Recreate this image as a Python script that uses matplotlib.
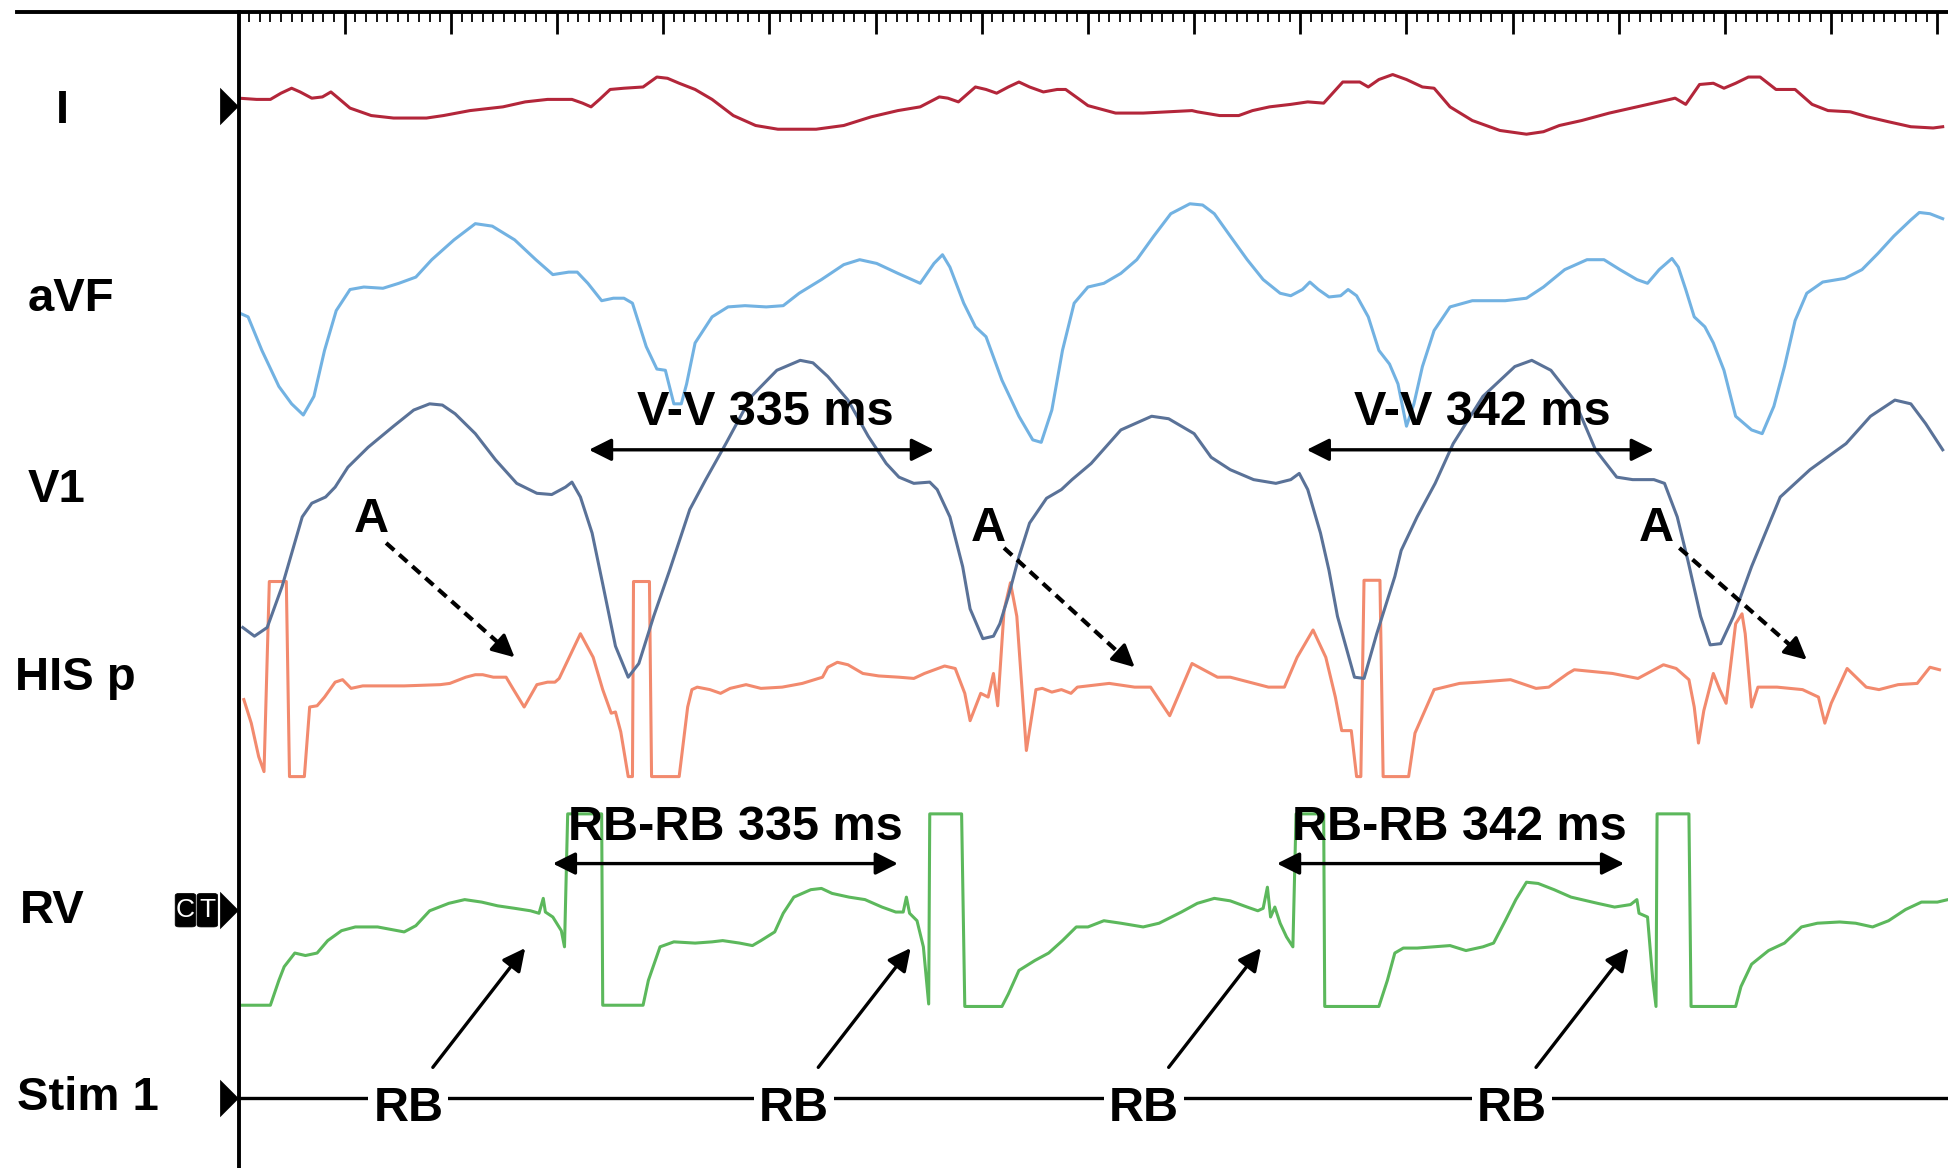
import numpy as np
import matplotlib
matplotlib.use('Agg')
import matplotlib.pyplot as plt
from matplotlib.patches import FancyBboxPatch
from matplotlib.lines import Line2D

# time in ms from the start of the window, amplitude in mV
i_t = [0, 17, 30, 40, 50, 58, 69, 79, 87, 94, 105, 125, 146, 177, 193, 218, 249, 270, 291, 314,
       324, 332, 340, 350, 363, 381, 394, 404, 415, 430, 446, 466, 487, 508, 544, 570, 596, 621, 642, 660,
       668, 678, 694, 704, 714, 725, 735, 745, 758, 771, 779, 792, 800, 826, 852, 898, 903, 924, 942, 955,
       971, 991, 1007, 1022, 1040, 1056, 1064, 1074, 1087, 1100, 1115, 1126, 1141, 1162, 1188, 1213, 1229, 1244, 1265, 1291,
       1317, 1348, 1353, 1363, 1376, 1389, 1399, 1410, 1422, 1433, 1448, 1466, 1482, 1497, 1518, 1534, 1554, 1575, 1596, 1605]
i_v = [0.6, 0.5, 0.5, 1.0, 1.4, 1.1, 0.6, 0.7, 1.1, 0.6, -0.2, -0.8, -1.0, -1.0, -0.8, -0.4, -0.1, 0.3, 0.5, 0.5,
       0.2, -0.1, 0.5, 1.3, 1.4, 1.5, 2.3, 2.2, 1.8, 1.3, 0.5, -0.8, -1.6, -1.9, -1.9, -1.6, -0.9, -0.4, -0.1, 0.7,
       0.6, 0.3, 1.5, 1.3, 1.0, 1.5, 1.9, 1.5, 1.1, 1.3, 1.3, 0.5, 0.0, -0.6, -0.6, -0.4, -0.5, -0.8, -0.8, -0.4,
       -0.1, 0.1, 0.3, 0.2, 1.9, 1.9, 1.5, 2.1, 2.5, 2.1, 1.5, 1.4, -0.1, -1.2, -2.0, -2.3, -2.1, -1.6, -1.2, -0.6,
       -0.1, 0.5, 0.6, 0.1, 1.7, 1.8, 1.4, 1.8, 2.3, 2.3, 1.3, 1.3, 0.1, -0.4, -0.5, -0.9, -1.3, -1.7, -1.8, -1.7]

avf_t = [1, 9, 22, 38, 50, 61, 71, 81, 92, 105, 118, 136, 151, 167, 182, 203, 223, 239, 260, 280,
         296, 311, 319, 329, 342, 353, 363, 371, 384, 394, 402, 410, 417, 422, 430, 446, 461, 477, 497, 513,
         528, 549, 570, 585, 601, 621, 642, 655, 663, 670, 683, 694, 704, 719, 735, 748, 756, 766, 776, 787,
         800, 815, 831, 846, 862, 878, 896, 908, 919, 934, 950, 965, 981, 991, 1002, 1009, 1017, 1027, 1038, 1045,
         1053, 1064, 1074, 1084, 1092, 1100, 1107, 1115, 1126, 1141, 1162, 1193, 1213, 1229, 1249, 1270, 1286, 1301, 1317, 1327,
         1338, 1350, 1356, 1363, 1371, 1381, 1389, 1399, 1410, 1425, 1435, 1446, 1456, 1466, 1477, 1492, 1513, 1529, 1544, 1559,
         1575, 1583, 1593, 1605]
avf_v = [-1.7, -2.0, -4.7, -7.6, -9.0, -9.9, -8.4, -4.7, -1.5, 0.2, 0.4, 0.3, 0.7, 1.2, 2.6, 4.2, 5.5, 5.3, 4.2, 2.6,
         1.4, 1.6, 1.6, 0.7, -0.7, -0.5, -0.5, -0.9, -4.4, -6.2, -6.3, -9.0, -9.0, -7.4, -4.1, -2.0, -1.2, -1.1, -1.2, -1.1,
         -0.1, 1.0, 2.2, 2.6, 2.3, 1.5, 0.7, 2.3, 3.0, 2.0, -0.9, -2.8, -3.6, -7.1, -10.0, -11.9, -12.1, -9.5, -4.7, -0.9,
         0.4, 0.7, 1.5, 2.6, 4.5, 6.3, 7.1, 7.0, 6.3, 4.5, 2.6, 1.0, -0.1, -0.3, 0.2, 0.8, 0.2, -0.4, -0.3, 0.2,
         -0.3, -2.0, -4.7, -5.8, -7.4, -10.8, -9.0, -6.0, -3.1, -1.2, -0.7, -0.7, -0.5, 0.4, 1.8, 2.6, 2.6, 1.8, 1.0, 0.7,
         1.8, 2.7, 2.0, 0.2, -2.0, -2.8, -4.1, -6.3, -10.0, -11.1, -11.4, -9.2, -6.0, -2.3, -0.1, 0.8, 1.1, 1.8, 3.1, 4.5,
         5.8, 6.4, 6.3, 5.9]

v1_t = [4, 15, 27, 41, 60, 69, 82, 91, 103, 122, 146, 165, 180, 192, 204, 223, 242, 262, 281, 295,
        308, 314, 322, 333, 343, 355, 367, 377, 391, 406, 425, 440, 459, 483, 507, 529, 541, 555, 574, 593,
        610, 622, 636, 651, 658, 670, 682, 689, 701, 711, 717, 725, 735, 745, 761, 775, 785, 803, 831, 860,
        876, 900, 916, 934, 956, 977, 991, 999, 1007, 1019, 1027, 1035, 1051, 1060, 1072, 1089, 1095, 1110, 1127, 1144,
        1172, 1202, 1218, 1236, 1258, 1278, 1298, 1313, 1333, 1343, 1355, 1365, 1377, 1386, 1396, 1408, 1425, 1452, 1480, 1514,
        1537, 1560, 1575, 1589, 1605]
v1_v = [-11.5, -12.2, -11.5, -8.2, -2.6, -1.5, -1.0, -0.2, 1.4, 3.0, 4.7, 6.0, 6.5, 6.4, 5.7, 4.1, 2.0, 0.1, -0.7, -0.8,
        -0.2, 0.2, -1.0, -3.9, -8.0, -13.0, -15.5, -14.4, -10.6, -6.9, -2.0, 0.4, 3.3, 7.1, 9.2, 10.0, 9.8, 8.7, 6.8, 3.9,
        1.7, 0.6, 0.1, 0.2, -0.4, -2.6, -6.6, -10.0, -12.4, -12.2, -11.2, -9.0, -5.8, -3.1, -1.1, -0.4, 0.4, 1.7, 4.4, 5.5,
        5.3, 4.1, 2.2, 1.2, 0.4, 0.1, 0.4, 0.9, -0.4, -3.9, -6.9, -10.6, -15.5, -15.6, -12.0, -7.4, -5.3, -2.6, 0.1, 3.3,
        7.1, 9.5, 10.0, 9.2, 6.8, 2.8, 0.6, 0.4, 0.4, 0.1, -2.6, -6.1, -10.6, -12.9, -12.8, -10.6, -6.6, -1.0, 1.2, 3.3,
        5.5, 6.8, 6.5, 4.9, 2.8]

his_t = [5, 12, 19, 24, 29, 45, 48, 62, 67, 74, 81, 91, 98, 106, 117, 156, 190, 199, 214, 223,
         230, 240, 252, 259, 269, 281, 291, 298, 302, 322, 334, 343, 351, 355, 360, 367, 371, 372, 387, 389,
         415, 423, 427, 432, 444, 454, 463, 478, 492, 512, 531, 550, 555, 564, 574, 588, 603, 622, 636, 646,
         665, 675, 684, 689, 694, 699, 706, 711, 715, 721, 727, 733, 742, 751, 757, 766, 775, 784, 790, 820,
         844, 859, 877, 898, 922, 934, 952, 970, 985, 997, 1012, 1024, 1033, 1039, 1048, 1053, 1057, 1060, 1075, 1078,
         1102, 1108, 1126, 1150, 1168, 1198, 1222, 1234, 1252, 1258, 1294, 1318, 1342, 1354, 1366, 1371, 1375, 1380, 1389, 1395,
         1401, 1410, 1416, 1419, 1425, 1431, 1449, 1461, 1473, 1488, 1494, 1500, 1515, 1533, 1545, 1563, 1581, 1593, 1602]
his_v = [-2.3, -4.2, -6.9, -8.1, 7.2, 7.2, -8.5, -8.5, -2.9, -2.8, -2.1, -0.9, -0.7, -1.4, -1.2, -1.2, -1.1, -1.0, -0.5, -0.3,
         -0.3, -0.5, -0.5, -1.5, -2.9, -1.1, -0.9, -0.9, -0.6, 3.0, 1.1, -1.5, -3.4, -3.3, -4.9, -8.5, -8.5, 7.2, 7.2, -8.5,
         -8.5, -2.9, -1.5, -1.3, -1.5, -1.8, -1.4, -1.1, -1.4, -1.3, -1.0, -0.5, 0.3, 0.7, 0.5, -0.2, -0.4, -0.5, -0.6, -0.2,
         0.4, 0.2, -1.8, -4.0, -2.9, -1.8, -2.1, -0.2, -2.8, 4.9, 7.1, 4.4, -6.4, -1.5, -1.4, -1.7, -1.5, -1.8, -1.3, -1.0,
         -1.3, -1.3, -3.6, 0.6, -0.5, -0.5, -0.9, -1.3, -1.3, 1.1, 3.3, 1.1, -2.1, -4.8, -4.8, -8.5, -8.5, 7.3, 7.3, -8.5,
         -8.5, -5.0, -1.5, -1.0, -0.9, -0.7, -1.4, -1.3, -0.2, 0.1, -0.2, -0.6, 0.5, 0.2, -0.7, -2.9, -5.8, -3.2, -0.2, -1.5,
         -2.6, 3.8, 4.6, 3.0, -2.9, -1.3, -1.3, -1.4, -1.5, -2.1, -4.2, -2.6, 0.2, -1.3, -1.5, -1.1, -1.0, 0.3, 0.1]

rv_t = [1, 30, 38, 43, 53, 63, 74, 84, 97, 110, 131, 156, 167, 180, 198, 213, 229, 244, 260, 275,
        283, 287, 289, 296, 304, 307, 310, 342, 343, 381, 386, 397, 410, 430, 446, 456, 472, 484, 492, 505,
        513, 523, 539, 549, 559, 575, 590, 606, 619, 626, 629, 632, 639, 645, 650, 651, 681, 684, 719, 725,
        735, 750, 763, 776, 789, 800, 815, 831, 852, 867, 888, 903, 919, 934, 950, 960, 965, 969, 972, 976,
        981, 987, 993, 996, 1022, 1023, 1074, 1082, 1089, 1097, 1110, 1125, 1141, 1156, 1172, 1182, 1193, 1203, 1213, 1224,
        1239, 1255, 1265, 1280, 1296, 1311, 1317, 1319, 1327, 1332, 1335, 1336, 1366, 1368, 1410, 1415, 1425, 1441, 1456, 1472,
        1487, 1508, 1523, 1539, 1554, 1570, 1585, 1600, 1610]
rv_v = [-7.6, -7.6, -5.6, -4.5, -3.4, -3.6, -3.4, -2.4, -1.6, -1.3, -1.3, -1.7, -1.2, 0.0, 0.6, 0.9, 0.7, 0.4, 0.2, 0.0,
        -0.2, 1.0, -0.1, -0.5, -1.6, -2.9, 7.8, 7.8, -7.6, -7.6, -5.6, -2.9, -2.5, -2.6, -2.5, -2.4, -2.6, -2.8, -2.4, -1.7,
        -0.2, 1.1, 1.7, 1.8, 1.4, 1.1, 0.9, 0.3, -0.1, -0.1, 1.1, -0.2, -0.8, -2.9, -7.5, 7.8, 7.8, -7.7, -7.7, -6.7,
        -4.8, -4.0, -3.4, -2.4, -1.3, -1.3, -0.8, -1.0, -1.3, -1.0, -0.1, 0.6, 1.0, 0.8, 0.3, 0.0, 0.2, 1.9, -0.5, 0.3,
        -1.0, -2.1, -2.9, 7.8, 7.8, -7.7, -7.7, -5.6, -3.4, -3.0, -3.0, -2.9, -2.8, -3.2, -2.9, -2.6, -0.8, 0.9, 2.3, 2.2,
        1.7, 1.1, 0.9, 0.6, 0.3, 0.5, 0.9, -0.2, -0.5, -5.6, -7.7, 7.8, 7.8, -7.7, -7.7, -6.1, -4.3, -3.2, -2.6, -1.3,
        -1.0, -0.9, -1.0, -1.3, -0.8, 0.1, 0.7, 0.7, 0.9]

stim_t = [0, 1610]
stim_v = [0.0, 0.0]

channels = ['I', 'aVF', 'V1', 'HIS p', 'RV', 'Stim 1']

# pacing marks (RB) on the stim channel, in ms
rb_times = [160, 523, 853, 1199]
vv_labels = ['V-V 335 ms', 'V-V 342 ms']
rbrb_labels = ['RB-RB 335 ms', 'RB-RB 342 ms']

FONT = ['Liberation Sans', 'DejaVu Sans']
W, H = 1568.0, 940.0   # layout grid used for placing things

fig = plt.figure(figsize=(19.48, 11.68), dpi=100)
fig.patch.set_facecolor('white')
L = 192 / W
ax = fig.add_axes([L, 0, 1 - L, 1 - 10 / H])
ax.set_xlim(0, 1610)
ax.set_ylim(-940, -10)
ax.set_facecolor('none')
for s in ['right', 'bottom']:
    ax.spines[s].set_visible(False)
ax.spines['left'].set_linewidth(2.8)
ax.spines['top'].set_linewidth(2.8)
ax.yaxis.set_visible(False)
ax.xaxis.tick_top()
ax.set_xticks(np.arange(100, 1610, 100))
ax.set_xticks(np.arange(10, 1610, 10), minor=True)
ax.tick_params(axis='x', which='major', direction='in', length=16, width=2.0,
               top=True, bottom=False, labeltop=False, labelbottom=False)
ax.tick_params(axis='x', which='minor', direction='in', length=7, width=1.3,
               top=True, bottom=False)
# top rule continues left over the label column
fig.add_artist(Line2D([14 / W, L], [1 - 10 / H] * 2, lw=2.8, color='k',
                      transform=fig.transFigure))

gain = 10.0
traces = [
    (i_t, i_v, '#b3263a', 85),
    (rv_t, rv_v, '#5cb85c', 733),
    (his_t, his_v, '#f28a6e', 540),
    (v1_t, v1_v, '#5a7298', 390),
    (avf_t, avf_v, '#72b2e2', 235),
]
for t, v, c, base in traces:
    ax.plot(t, -base + gain * np.asarray(v), color=c, lw=2.2,
            solid_joinstyle='round', zorder=2)
ax.plot(stim_t, -884 + gain * np.asarray(stim_v), color='k', lw=2.4, zorder=2)

FS = 35

# channel labels
label_pos = [(50, 99, 'center'), (22, 250, 'left'), (22, 404, 'left'),
             (12, 555, 'left'), (16, 743, 'left'), (14, 893, 'left')]
for name, (x, y, ha) in zip(channels, label_pos):
    fig.text(x / W, 1 - y / H, name, ha=ha, va='baseline', fontsize=FS - 1,
             fontweight='bold', family=FONT)

# channel pointers
tri = [(-0.5, -1), (-0.5, 1), (0.5, 0)]
for y in [85, 732, 884]:
    ax.plot(-8.8, -y, marker=tri, ms=27, color='k', mew=0, clip_on=False)

# CT tag on RV: two small black cells
for ch, x0 in [('C', 141), ('T', 158.6)]:
    fig.add_artist(FancyBboxPatch((x0 / W, 1 - 746 / H), 16.6 / W, 27 / H,
                                  boxstyle='round,pad=0,rounding_size=0.002',
                                  transform=fig.transFigure, fc='k', ec='k', lw=0.5))
    fig.text((x0 + 8.3) / W, 1 - 732.5 / H, ch, ha='center', va='center', fontsize=19,
             color='white', family=FONT)


def arrow(p0, p1, style, ls='-'):
    ax.annotate('', xy=p1, xytext=p0, annotation_clip=False,
                arrowprops=dict(arrowstyle=style, color='k', lw=2.4, linestyle=ls,
                                mutation_scale=34, shrinkA=0, shrinkB=0), zorder=5)


txt = dict(ha='center', va='baseline', fontsize=FS, fontweight='bold', family=FONT, zorder=6)

# V-V intervals
for lab, xc, (x0, x1) in zip(vv_labels, [496, 1171], [(330, 655), (1006, 1333)]):
    ax.text(xc, -342, lab, **txt)
    arrow((x0, -362), (x1, -362), '<|-|>')

# RB-RB intervals
for lab, xc, (x0, x1) in zip(rbrb_labels, [468, 1150], [(296, 621), (978, 1305)]):
    ax.text(xc, -676, lab, **txt)
    arrow((x0, -695), (x1, -695), '<|-|>')

# atrial activity: dashed shaft, solid head
for (xa, ya), (x0, y0), (x1, y1) in [((125, 428), (139, 437), (260, 529)),
                                     ((706, 435), (721, 441), (844, 537)),
                                     ((1335, 435), (1357, 441), (1477, 531))]:
    ax.text(xa, -ya, 'A', **txt)
    xm, ym = x1 - 0.12 * (x1 - x0), -(y1 - 0.12 * (y1 - y0))
    ax.plot([x0, xm], [-y0, ym], color='k', lw=3.0, dashes=(2.6, 1.6), zorder=5)
    arrow((xm, ym), (x1, -y1), '-|>')

# RB pacing marks and pointers to RV
for x in rb_times:
    ax.text(x, -902, 'RB', bbox=dict(boxstyle='square,pad=0.1', fc='white', ec='none'), **txt)
    arrow((x + 23, -859), (x + 110, -763), '-|>')

fig.savefig('out.png', dpi=100, facecolor='white')
